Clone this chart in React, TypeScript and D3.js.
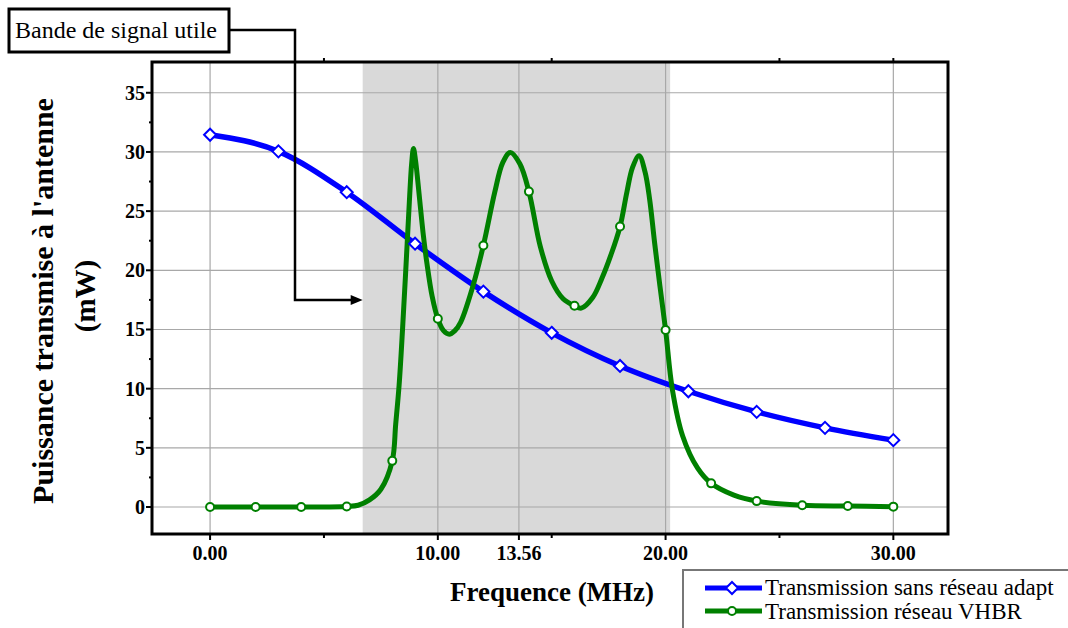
import React from "react";
import * as d3 from "d3";

// ---- data ----
const blueX = [0, 3, 6, 9, 12, 15, 18, 21, 24, 27, 30];
const blueY = [31.45, 30.05, 26.6, 22.25, 18.2, 14.72, 11.92, 9.78, 8.04, 6.69, 5.65];

// green curve (x in MHz, y in mW)
const greenX = [0, 2, 4, 6, 6.5, 7.0, 7.5, 8.0, 8.15, 8.3, 8.45, 8.6, 8.75, 8.85, 8.93, 9.02, 9.19, 9.35, 9.52, 9.75, 10.0, 10.25, 10.5, 10.75, 11.0, 11.5, 12.0, 12.5, 12.85, 13.18, 13.6, 14.0, 14.5, 15.0, 15.5, 16.0, 16.3, 16.8, 17.2, 17.6, 18.0, 18.3, 18.55, 18.84, 19.1, 19.3, 19.52, 19.75, 20.0, 20.3, 20.75, 21.4, 22, 23, 24, 26, 28, 30];
const greenY = [0, 0, 0, 0.05, 0.15, 0.6, 1.5, 3.9, 7.0, 10.3, 15.0, 20.3, 25.8, 29.0, 30.3, 29.3, 26.2, 23.2, 20.6, 17.8, 15.9, 14.9, 14.6, 14.9, 15.6, 18.4, 22.1, 26.6, 29.1, 29.95, 29.0, 26.65, 22.0, 19.1, 17.6, 17.0, 16.8, 17.7, 19.3, 21.3, 23.7, 26.6, 28.7, 29.67, 28.3, 26.0, 22.3, 18.7, 14.96, 9.9, 6.0, 3.3, 2.0, 1.0, 0.5, 0.15, 0.08, 0.03];
// markers of the green series
const greenMarkX = [0, 2, 4, 6, 8, 10, 12, 14, 16, 18, 20, 22, 24, 26, 28, 30];

const xMajorTicks = [0, 10, 13.56, 20, 30];
const xMinorTicks = [5, 15, 25];
const yMajorTicks = [0, 5, 10, 15, 20, 25, 30, 35];
const yMinorTicks = [2.5, 7.5, 12.5, 17.5, 22.5, 27.5, 32.5];
const band = [6.7, 20.2];

const seriesNames = ["Transmission sans réseau adapt", "Transmission réseau VHBR"];
const BLUE = "#0000ff";
const GREEN = "#008000";
const FONT = "'Liberation Serif', 'Times New Roman', serif";

export default function App() {
  const L = 152, R = 948, T = 62, B = 534;
  const x = d3.scaleLinear().domain([-2.55, 32.4]).range([L, R]);
  const y = d3.scaleLinear().domain([-2.28, 37.6]).range([B, T]);

  const blueData = blueX.map((v, i) => [v, blueY[i]] as [number, number]);
  const greenData = greenX.map((v, i) => [v, greenY[i]] as [number, number]);
  const greenMarks = greenData.filter((d) => greenMarkX.includes(d[0]));

  const blueLine = d3
    .line<[number, number]>()
    .x((d) => x(d[0]))
    .y((d) => y(d[1]))
    .curve(d3.curveMonotoneX);
  const greenLine = d3
    .line<[number, number]>()
    .x((d) => x(d[0]))
    .y((d) => y(d[1]))
    .curve(d3.curveCatmullRom.alpha(0.5));

  const diamond = (cx: number, cy: number, s = 6) =>
    `M${cx},${cy - s}L${cx + s},${cy}L${cx},${cy + s}L${cx - s},${cy}Z`;

  const arrowY = 300;
  const tipX = x(band[0]);

  return (
    <svg
      width={1068}
      height={628}
      style={{ position: "absolute", left: 0, top: 0, background: "#fff" }}
      fontFamily={FONT}
    >
      <rect x={0} y={0} width={1068} height={628} fill="#fff" />
      {/* band */}
      <rect x={x(band[0])} y={T} width={x(band[1]) - x(band[0])} height={B - T} fill="#d9d9d9" />
      {/* grid */}
      {yMajorTicks.map((t) => (
        <line key={"gy" + t} x1={L} x2={R} y1={y(t)} y2={y(t)} stroke="#a8a8a8" strokeWidth={1.2} />
      ))}
      {xMajorTicks.map((t) => (
        <line key={"gx" + t} x1={x(t)} x2={x(t)} y1={T} y2={B} stroke="#a8a8a8" strokeWidth={1.2} />
      ))}
      {/* lines */}
      <path d={blueLine(blueData) || ""} fill="none" stroke={BLUE} strokeWidth={5.5} />
      <path d={greenLine(greenData) || ""} fill="none" stroke={GREEN} strokeWidth={5} strokeLinejoin="round" />
      {blueData.map((d, i) => (
        <path key={"bm" + i} d={diamond(x(d[0]), y(d[1]))} fill="#fff" stroke={BLUE} strokeWidth={2} />
      ))}
      {greenMarks.map((d, i) => (
        <circle key={"gm" + i} cx={x(d[0])} cy={y(d[1])} r={4} fill="#fff" stroke={GREEN} strokeWidth={2} />
      ))}
      {/* frame */}
      <rect x={L} y={T} width={R - L} height={B - T} fill="none" stroke="#000" strokeWidth={3} />
      {/* x ticks */}
      {xMajorTicks.map((t) => (
        <g key={"xt" + t}>
          <line x1={x(t)} x2={x(t)} y1={B} y2={B + 6} stroke="#000" strokeWidth={2} />
          <text x={x(t)} y={560} textAnchor="middle" fontSize={20} fontWeight="bold">
            {t.toFixed(2)}
          </text>
        </g>
      ))}
      {xMinorTicks.map((t) => (
        <g key={"xm" + t}>
          <line x1={x(t)} x2={x(t)} y1={B} y2={B + 4} stroke="#000" strokeWidth={2} />
          <line x1={x(t)} x2={x(t)} y1={T} y2={T - 4} stroke="#000" strokeWidth={2} />
        </g>
      ))}
      <line x1={x(30)} x2={x(30)} y1={T} y2={T - 4} stroke="#000" strokeWidth={2} />
      {/* y ticks */}
      {yMajorTicks.map((t) => (
        <g key={"yt" + t}>
          <line x1={L - 6} x2={L} y1={y(t)} y2={y(t)} stroke="#000" strokeWidth={2} />
          <text x={145} y={y(t) + 7} textAnchor="end" fontSize={20} fontWeight="bold">
            {t}
          </text>
        </g>
      ))}
      {yMinorTicks.map((t) => (
        <line key={"ym" + t} x1={L - 3} x2={L} y1={y(t)} y2={y(t)} stroke="#000" strokeWidth={2} />
      ))}
      {/* axis titles */}
      <text x={552} y={601} textAnchor="middle" fontSize={27} fontWeight="bold">
        Frequence (MHz)
      </text>
      <g transform="translate(53,301) rotate(-90)">
        <text x={0} y={0} textAnchor="middle" fontSize={30} fontWeight="bold">
          Puissance transmise à l'antenne
        </text>
      </g>
      <g transform="translate(95,296) rotate(-90)">
        <text x={0} y={0} textAnchor="middle" fontSize={29} fontWeight="bold">
          (mW)
        </text>
      </g>
      {/* annotation */}
      <polyline
        points={`230,30 295,30 295,${arrowY} ${tipX - 10},${arrowY}`}
        fill="none"
        stroke="#000"
        strokeWidth={2.5}
      />
      <path d={`M${tipX},${arrowY}L${tipX - 12},${arrowY - 5}L${tipX - 12},${arrowY + 5}Z`} fill="#000" />
      <rect x={9} y={9} width={220} height={43} fill="#fff" stroke="#000" strokeWidth={3} />
      <text x={15} y={38} fontSize={24}>
        Bande de signal utile
      </text>
      {/* legend */}
      <rect x={683} y={570} width={400} height={80} fill="#fff" stroke="#777" strokeWidth={2} />
      <line x1={705} x2={762} y1={588} y2={588} stroke={BLUE} strokeWidth={5} />
      <path d={diamond(732, 588, 6)} fill="#fff" stroke={BLUE} strokeWidth={2} />
      <text x={765} y={595} fontSize={23}>
        {seriesNames[0]}
      </text>
      <line x1={705} x2={762} y1={611} y2={611} stroke={GREEN} strokeWidth={5} />
      <circle cx={732} cy={611} r={4} fill="#fff" stroke={GREEN} strokeWidth={2} />
      <text x={765} y={619} fontSize={23}>
        {seriesNames[1]}
      </text>
    </svg>
  );
}
